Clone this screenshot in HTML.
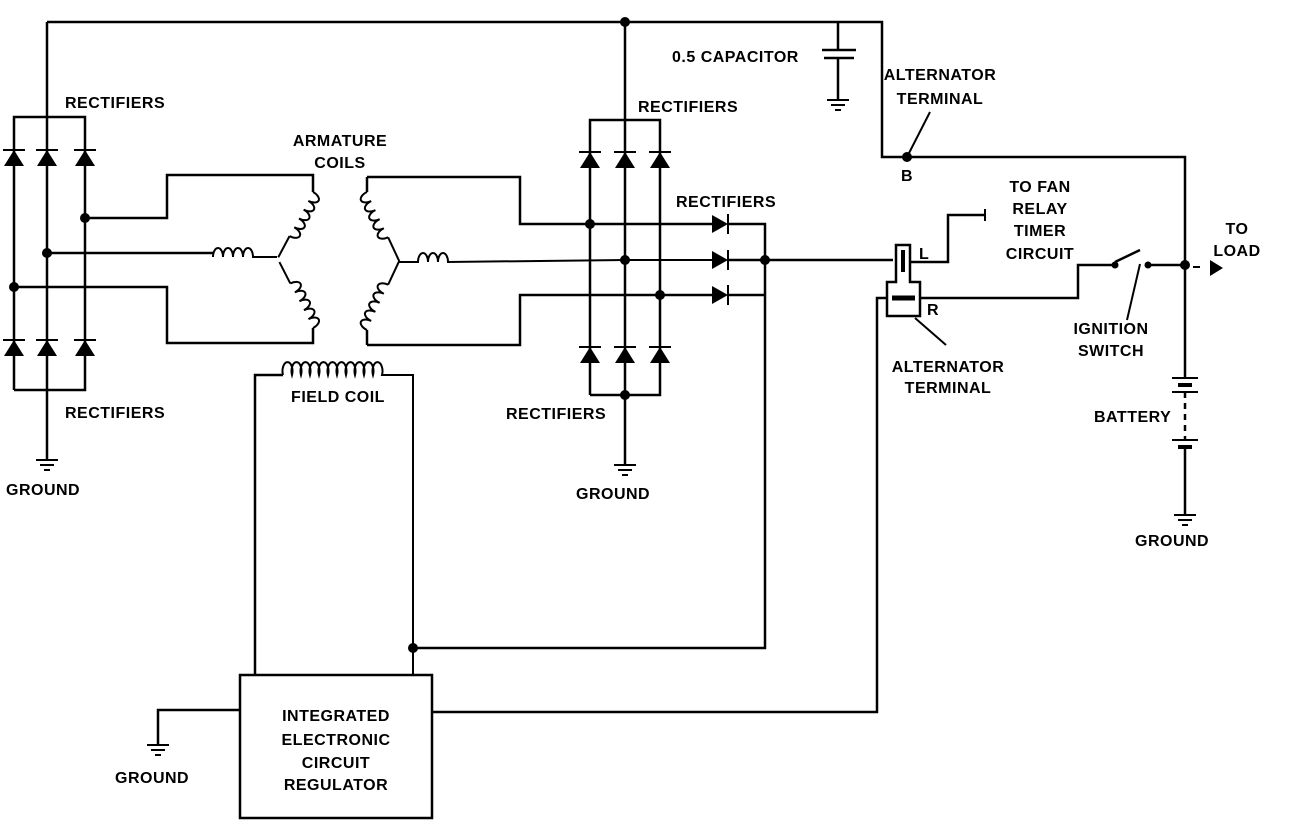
<!DOCTYPE html>
<html><head><meta charset="utf-8"><style>
html,body{margin:0;padding:0;background:#fff;}
svg{display:block}
text{font-family:"Liberation Sans",sans-serif;font-weight:bold;font-size:16px;fill:#000;letter-spacing:0.5px}
</style></head><body>
<svg width="1312" height="828" viewBox="0 0 1312 828" xmlns="http://www.w3.org/2000/svg">
<defs>
<g id="du"><polygon points="-10,166 10,166 0,150" fill="#000"/><line x1="-11" y1="150" x2="11" y2="150" stroke="#000" stroke-width="2"/></g>
<g id="dr"><polygon points="-8,-9 -8,9 8,0" fill="#000"/><line x1="8" y1="-10" x2="8" y2="10" stroke="#000" stroke-width="2"/></g>
<g id="gnd"><line x1="-11" y1="0" x2="11" y2="0"/><line x1="-7" y1="5" x2="7" y2="5"/><line x1="-3" y1="10" x2="3" y2="10"/></g>
<path id="coil" d="M0,0 a5,9 0 1,1 10,0 a5,9 0 1,1 10,0 a5,9 0 1,1 10,0 a5,9 0 1,1 10,0 a5,9 0 1,1 10,0" fill="none" stroke="#000" stroke-width="2"/>
</defs>
<g stroke="#000" stroke-width="2.5" fill="none">
<!-- top wire -->
<polyline points="47,22 882,22 882,157 1185,157 1185,378"/>
<line x1="838" y1="22" x2="838" y2="50"/>
<line x1="822" y1="50" x2="856" y2="50"/><line x1="824" y1="58" x2="854" y2="58"/>
<line x1="838" y1="58" x2="838" y2="100"/>
<g transform="translate(838,100)" stroke-width="2"><use href="#gnd"/></g>
<!-- left block -->
<polyline points="14,390 14,117 85,117 85,390 14,390"/>
<line x1="47" y1="22" x2="47" y2="460"/>
<g transform="translate(47,460)" stroke-width="2"><use href="#gnd"/></g>
<polyline points="85,218 167,218 167,175 313,175 313,192"/>
<polyline points="47,253 213,253"/>
<polyline points="14,287 167,287 167,343 313,343 313,328"/>
<!-- left armature coils -->
<path d="M213,257 a5,9 0 1,1 10,0 a5,9 0 1,1 10,0 a5,9 0 1,1 10,0 a5,9 0 1,1 10,0 L277,257" stroke-width="2"/>
<g transform="translate(313,192) rotate(118)"><use href="#coil"/><line x1="50" y1="0" x2="74" y2="0" stroke-width="2"/></g>
<g transform="translate(313,328) rotate(-117)"><use href="#coil" transform="scale(1,-1)"/><line x1="50" y1="0" x2="74" y2="0" stroke-width="2"/></g>
<!-- right armature -->
<polyline points="367,177 520,177 520,224 712,224"/>
<polyline points="367,345 520,345 520,295 712,295"/>
<line x1="367" y1="177" x2="367" y2="192"/>
<line x1="367" y1="345" x2="367" y2="330"/>
<path d="M398,262 L418,262 a5,9 0 1,1 10,0 a5,9 0 1,1 10,0 a5,9 0 1,1 10,0 L625,260 L712,260" stroke-width="2"/>
<g transform="translate(367,192) rotate(65)"><use href="#coil" transform="scale(1,-1)"/><line x1="50" y1="0" x2="77" y2="0" stroke-width="2"/></g>
<g transform="translate(367,330) rotate(-65)"><use href="#coil"/><line x1="50" y1="0" x2="75" y2="0" stroke-width="2"/></g>
<!-- right block -->
<polyline points="590,395 590,120 660,120 660,395 590,395"/>
<line x1="625" y1="22" x2="625" y2="465"/>
<g transform="translate(625,465)" stroke-width="2"><use href="#gnd"/></g>
<polyline points="728,224 765,224 765,648 415,648"/>
<line x1="728" y1="260" x2="893" y2="260"/>
<line x1="728" y1="295" x2="765" y2="295"/>
<!-- field coil -->
<polyline points="255,675 255,375 283,375"/>
<path d="M283,375 a5,9 0 1,1 9,0 a5,9 0 1,1 9,0 a5,9 0 1,1 9,0 a5,9 0 1,1 9,0 a5,9 0 1,1 9,0 a5,9 0 1,1 9,0 a5,9 0 1,1 9,0 a5,9 0 1,1 9,0 a5,9 0 1,1 9,0 a5,9 0 1,1 9,0 a5,9 0 1,1 9,0 L413,375 L413,675" stroke-width="2"/>
<!-- regulator -->
<rect x="240" y="675" width="192" height="143"/>
<polyline points="240,710 158,710 158,745"/>
<g transform="translate(158,745)" stroke-width="2"><use href="#gnd"/></g>
<polyline points="432,712 877,712 877,298 888,298"/>
<!-- terminal -->
<path d="M896,245 L910,245 L910,282 L920,282 L920,316 L887,316 L887,282 L896,282 Z"/>
<line x1="903" y1="250" x2="903" y2="272" stroke-width="4"/>
<line x1="892" y1="298" x2="915" y2="298" stroke-width="5"/>
<polyline points="910,262 948,262 948,215 985,215"/>
<line x1="985" y1="209" x2="985" y2="221" stroke-width="2"/>
<polyline points="920,298 1078,298 1078,265 1115,265"/>
<line x1="1115" y1="262" x2="1140" y2="250"/>
<line x1="1148" y1="265" x2="1185" y2="265"/>
<line x1="1140" y1="264" x2="1127" y2="320" stroke-width="2"/>
<line x1="1193" y1="267" x2="1200" y2="267" stroke-width="2"/>
<line x1="915" y1="318" x2="946" y2="345" stroke-width="2"/>
<line x1="907" y1="157" x2="930" y2="112" stroke-width="2"/>
<!-- battery -->
<line x1="1172" y1="378" x2="1198" y2="378" stroke-width="2"/>
<line x1="1178" y1="385" x2="1192" y2="385" stroke-width="4"/>
<line x1="1172" y1="392" x2="1198" y2="392" stroke-width="2"/>
<line x1="1185" y1="392" x2="1185" y2="440" stroke-dasharray="6,5"/>
<line x1="1172" y1="440" x2="1198" y2="440" stroke-width="2"/>
<line x1="1178" y1="447" x2="1192" y2="447" stroke-width="4"/>
<line x1="1185" y1="447" x2="1185" y2="515"/>
<g transform="translate(1185,515)" stroke-width="2"><use href="#gnd"/></g>
</g>
<!-- diodes -->
<use href="#du" x="14" y="0"/><use href="#du" x="47" y="0"/><use href="#du" x="85" y="0"/>
<use href="#du" x="14" y="190"/><use href="#du" x="47" y="190"/><use href="#du" x="85" y="190"/>
<use href="#du" x="590" y="2"/><use href="#du" x="625" y="2"/><use href="#du" x="660" y="2"/>
<use href="#du" x="590" y="197"/><use href="#du" x="625" y="197"/><use href="#du" x="660" y="197"/>
<use href="#dr" x="720" y="224"/><use href="#dr" x="720" y="260"/><use href="#dr" x="720" y="295"/>
<polygon points="1210,260 1210,276 1223,268" fill="#000"/>
<!-- dots -->
<g fill="#000">
<circle cx="625" cy="22" r="5"/><circle cx="85" cy="218" r="5"/><circle cx="47" cy="253" r="5"/><circle cx="14" cy="287" r="5"/>
<circle cx="590" cy="224" r="5"/><circle cx="625" cy="260" r="5"/><circle cx="660" cy="295" r="5"/><circle cx="625" cy="395" r="5"/>
<circle cx="765" cy="260" r="5"/><circle cx="413" cy="648" r="5"/><circle cx="907" cy="157" r="5"/>
<circle cx="1185" cy="265" r="5"/><circle cx="1115" cy="265" r="3.5"/><circle cx="1148" cy="265" r="3.5"/>
</g>
<!-- labels -->
<text x="65" y="108">RECTIFIERS</text>
<text x="65" y="418">RECTIFIERS</text>
<text x="6" y="495">GROUND</text>
<text x="340" y="146" text-anchor="middle">ARMATURE</text>
<text x="340" y="168" text-anchor="middle">COILS</text>
<text x="338" y="402" text-anchor="middle">FIELD COIL</text>
<text x="638" y="112">RECTIFIERS</text>
<text x="676" y="207">RECTIFIERS</text>
<text x="506" y="419">RECTIFIERS</text>
<text x="576" y="499">GROUND</text>
<text x="672" y="62">0.5 CAPACITOR</text>
<text x="940" y="80" text-anchor="middle">ALTERNATOR</text>
<text x="940" y="104" text-anchor="middle">TERMINAL</text>
<text x="901" y="181">B</text>
<text x="1040" y="192" text-anchor="middle">TO FAN</text>
<text x="1040" y="214" text-anchor="middle">RELAY</text>
<text x="1040" y="236" text-anchor="middle">TIMER</text>
<text x="1040" y="259" text-anchor="middle">CIRCUIT</text>
<text x="1237" y="234" text-anchor="middle">TO</text>
<text x="1237" y="256" text-anchor="middle">LOAD</text>
<text x="919" y="259" font-size="14">L</text>
<text x="927" y="315" font-size="14">R</text>
<text x="948" y="372" text-anchor="middle">ALTERNATOR</text>
<text x="948" y="393" text-anchor="middle">TERMINAL</text>
<text x="1111" y="334" text-anchor="middle">IGNITION</text>
<text x="1111" y="356" text-anchor="middle">SWITCH</text>
<text x="1094" y="422">BATTERY</text>
<text x="1135" y="546">GROUND</text>
<text x="336" y="721" text-anchor="middle">INTEGRATED</text>
<text x="336" y="745" text-anchor="middle">ELECTRONIC</text>
<text x="336" y="768" text-anchor="middle">CIRCUIT</text>
<text x="336" y="790" text-anchor="middle">REGULATOR</text>
<text x="115" y="783">GROUND</text>
</svg>
</body></html>
